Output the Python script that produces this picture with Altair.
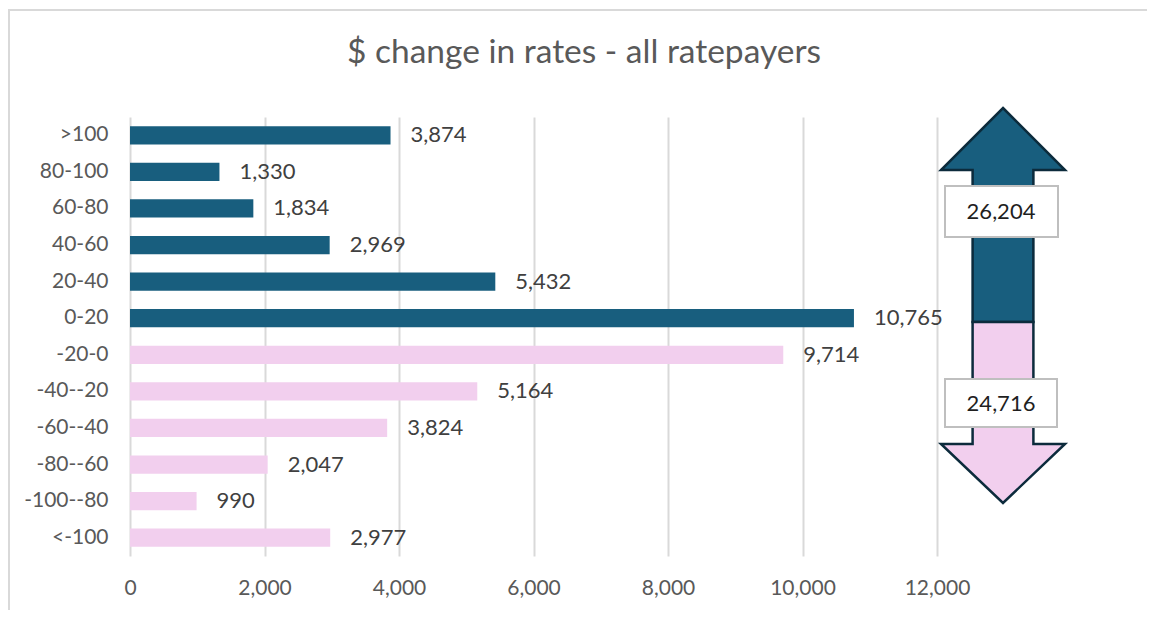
import altair as alt
import pandas as pd

categories = [">100", "80-100", "60-80", "40-60", "20-40", "0-20",
              "-20-0", "-40--20", "-60--40", "-80--60", "-100--80", "<-100"]
counts = [3874, 1330, 1834, 2969, 5432, 10765,
          9714, 5164, 3824, 2047, 990, 2977]
direction = ["increase"] * 6 + ["decrease"] * 6
x_ticks = [0, 2000, 4000, 6000, 8000, 10000, 12000]
title_text = ["$ change in rates - all ratepayers"]

DARK = "#185e7e"
PINK = "#f2cfee"
EDGE = "#0c2b3c"
FONT = "Lato"

df = pd.DataFrame({"band": categories, "count": counts, "dir": direction})
totals = df.groupby("dir", as_index=False)["count"].sum()
tot_up = totals[totals["dir"] == "increase"]
tot_down = totals[totals["dir"] == "decrease"]
title_df = pd.DataFrame({"t": title_text})

W, H = 807, 439

xscale = alt.Scale(domain=[0, 12000], nice=False)
yscale = alt.Scale(paddingInner=0.5, paddingOuter=0.25)
xaxis = alt.Axis(title=None, values=x_ticks, labelExpr="format(datum.value, ',')", ticks=False,
                 domain=False, labelFontSize=21, labelColor="#595959", labelPadding=21,
                 labelFlush=False, labelFont=FONT, grid=True, gridColor="#d9d9d9", gridWidth=2)
yaxis = alt.Axis(title=None, ticks=False, domain=False, labelFontSize=21,
                 labelColor="#595959", labelPadding=22, labelFont=FONT)

bars = alt.Chart(df).mark_bar().encode(
    y=alt.Y("band:N", sort=categories, scale=yscale, axis=yaxis),
    x=alt.X("count:Q", scale=xscale, axis=xaxis),
    color=alt.Color("dir:N", scale=alt.Scale(domain=["increase", "decrease"], range=[DARK, PINK]),
                    legend=None),
)

labels = alt.Chart(df).mark_text(align="left", baseline="middle", dx=20, fontSize=22,
                                 color="#404040", font=FONT).encode(
    y=alt.Y("band:N", sort=categories, scale=yscale, axis=yaxis),
    x=alt.X("count:Q", scale=xscale, axis=xaxis),
    text=alt.Text("count:Q", format=","),
)

up_path = "M0,-1.07 L0.31,-0.76 L0.152,-0.76 L0.152,0 L-0.152,0 L-0.152,-0.76 L-0.31,-0.76 Z"
down_path = "M-0.152,0 L0.152,0 L0.152,0.61 L0.31,0.61 L0,0.905 L-0.31,0.61 L-0.152,0.61 Z"

arrow_up = alt.Chart(tot_up).mark_point(shape=up_path, size=160000, filled=True, fill=DARK,
                                         stroke=EDGE, strokeWidth=2.5, opacity=1).encode(
    x=alt.value(873), y=alt.value(205))
arrow_down = alt.Chart(tot_down).mark_point(shape=down_path, size=160000, filled=True, fill=PINK,
                                             stroke=EDGE, strokeWidth=2.5, opacity=1).encode(
    x=alt.value(873), y=alt.value(205))

box_up = alt.Chart(tot_up).mark_rect(fill="white", stroke="#bfbfbf", strokeWidth=2).encode(
    x=alt.value(815), x2=alt.value(928), y=alt.value(69), y2=alt.value(120))
box_down = alt.Chart(tot_down).mark_rect(fill="white", stroke="#bfbfbf", strokeWidth=2).encode(
    x=alt.value(815), x2=alt.value(927), y=alt.value(262), y2=alt.value(310))

txt_up = alt.Chart(tot_up).mark_text(fontSize=22, color="#1f1f1f", font=FONT).encode(
    x=alt.value(871), y=alt.value(95), text=alt.Text("count:Q", format=","))
txt_down = alt.Chart(tot_down).mark_text(fontSize=22, color="#1f1f1f", font=FONT).encode(
    x=alt.value(871), y=alt.value(287), text=alt.Text("count:Q", format=","))

title = alt.Chart(title_df).mark_text(fontSize=33.5, color="#595959", font=FONT,
                                      align="center", baseline="middle").encode(
    x=alt.value(454), y=alt.value(-64), text="t:N")

frame_top = alt.Chart(tot_up).mark_rule(color="#d9d9d9", strokeWidth=2).encode(
    x=alt.value(-122), x2=alt.value(1025), y=alt.value(-107))
frame_left = alt.Chart(tot_up).mark_rule(color="#d9d9d9", strokeWidth=2).encode(
    x=alt.value(-121), y=alt.value(-107), y2=alt.value(495))

chart = alt.layer(
    frame_top, frame_left, title, bars, labels, arrow_up, arrow_down, box_up, box_down,
    txt_up, txt_down
).properties(
    width=W, height=H,
    background="white",
    autosize=alt.AutoSizeParams(type="none"),
    padding={"left": 122, "top": 109, "right": 210, "bottom": 54},
).configure_view(strokeWidth=0, stroke="transparent")

chart.save("out.html", embed_options={"renderer": "svg", "actions": False})
